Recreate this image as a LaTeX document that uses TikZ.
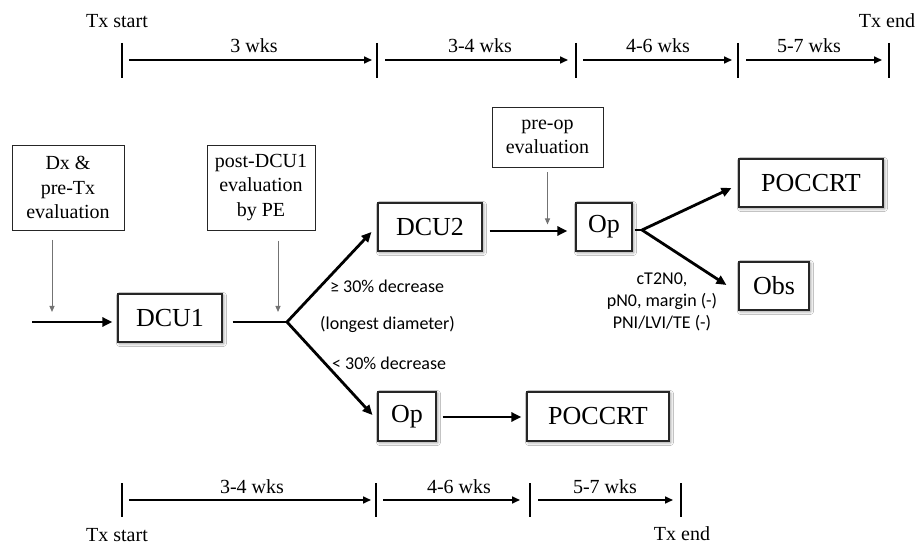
\documentclass[tikz,border=0pt]{standalone}
\usepackage{fontspec}
\setmainfont{Liberation Serif}
\newfontfamily\calib{Carlito}
\usetikzlibrary{arrows.meta,calc,shadows.blur}
\tikzset{
  evalbox/.style={draw=black!85, line width=0.9pt, align=center, inner sep=0pt,
    font=\fontsize{20}{24.5}\selectfont},
  bigbox/.style={draw=black!85, line width=1.1pt, fill=white, inner sep=0pt,
    font=\fontsize{26}{30}\selectfont,
    blur shadow={shadow xshift=1.5pt, shadow yshift=-1.5pt, shadow blur steps=6,
      shadow blur radius=3pt, shadow opacity=45}},
  thickarrow/.style={line width=2.8pt, -{Triangle[length=10pt,width=9pt]}},
  thinarrow/.style={draw=black!55, line width=1pt, -{Triangle[length=6pt,width=5pt]}},
  tlarrow/.style={line width=1.6pt, -{Triangle[length=8pt,width=7pt]}},
  tickmark/.style={line width=1.7pt},
  tltext/.style={anchor=base, inner sep=0pt, font=\fontsize{20}{24}\selectfont},
  lbl/.style={inner sep=0pt, font=\calib\fontsize{18}{22}\selectfont},
}
\begin{document}
\begin{tikzpicture}[x=1pt,y=-1pt]
\useasboundingbox[fill=white] (0,0) rectangle (919,545);

% ---------- top timeline ----------
\foreach \n/\x in {1/122,2/377,3/576,4/738,5/889}{
  \coordinate (ta\n) at (\x,60);
  \draw[tickmark] ($(ta\n)+(0,-17)$) -- ($(ta\n)+(0,18)$);
}
\draw[tlarrow, shorten <=7pt, shorten >=5pt] (ta1) -- (ta2);
\draw[tlarrow, shorten <=8pt, shorten >=8pt] (ta2) -- (ta3);
\draw[tlarrow, shorten <=7pt, shorten >=6pt] (ta3) -- (ta4);
\draw[tlarrow, shorten <=8pt, shorten >=7pt] (ta4) -- (ta5);
\node[tltext] (tla) at (254,53) {3 wks};
\node[tltext] (tlb) at (480,53) {3-4 wks};
\node[tltext] (tlc) at (658,53) {4-6 wks};
\node[tltext] (tld) at (809,53) {5-7 wks};
\node[tltext] (tstart1) at (117,28) {Tx start};
\node[tltext] (tend1) at (887,28) {Tx end};

% ---------- evaluation boxes ----------
\node[evalbox, minimum width=112pt, minimum height=85pt] (dx) at (68,187.5) {Dx \&\\pre-Tx\\evaluation};
\node[evalbox, minimum width=108pt, minimum height=85pt] (post) at (261,187.5) {post-DCU1\\evaluation\\by PE};
\node[evalbox, minimum width=111pt, minimum height=60pt] (preop) at (547.5,137) {pre-op\\evaluation};

% ---------- main boxes ----------
\node[bigbox, minimum width=104pt, minimum height=48pt] (dcu1) at (170,318) {DCU1};
\node[bigbox, minimum width=104pt, minimum height=48pt] (dcu2) at (430,227) {DCU2};
\node[bigbox, minimum width=56pt, minimum height=48pt] (op1) at (604,227) {Op};
\node[bigbox, minimum width=144pt, minimum height=48pt] (pocc1) at (811,183) {POCCRT};
\node[bigbox, minimum width=70pt, minimum height=48pt] (obs) at (774,286) {Obs};
\node[bigbox, minimum width=58pt, minimum height=49pt] (op2) at (407,416.5) {Op};
\node[bigbox, minimum width=142pt, minimum height=49pt] (pocc2) at (598,416.5) {POCCRT};

% ---------- coordinates ----------
\coordinate (in) at (32,322);
\coordinate (b1) at (287,322);
\coordinate (b2) at (642,230);
\coordinate (dxa) at (52,240);
\coordinate (dxb) at (52,312);
\coordinate (pea) at (278,241);
\coordinate (peb) at (278,312);

% ---------- connectors ----------
\draw[thickarrow, shorten >=5pt] (in) -- (dcu1.west |- in);
\draw[line width=2.8pt] ($(dcu1.east |- b1)+(10,0)$) -- (b1);
\draw[thickarrow] (b1) -- ($(dcu2.west)+(-6,5)$);
\draw[thickarrow] (b1) -- ($(op2.west)+(-5,-1.5)$);
\draw[thickarrow, shorten <=6pt, shorten >=5pt] (op2.east |- 0,417) -- (pocc2.west |- 0,417);
\draw[thickarrow, shorten <=7pt, shorten >=8pt] (dcu2.east |- 0,231) -- (op1.west |- 0,231);
\draw[line width=2.8pt] ($(op1.east |- b2)+(2,0)$) -- (b2);
\draw[thickarrow] (b2) -- ($(pocc1.west)+(-7,5)$);
\draw[thickarrow] (b2) -- ($(obs.west)+(-12,-1)$);

\draw[thinarrow] (dxa) -- (dxb);
\draw[thinarrow] (pea) -- (peb);
\draw[thinarrow, shorten <=5pt] (preop.south) -- ($(preop.south)+(0,57)$);

% ---------- branch labels ----------
\node[lbl, anchor=west] (l1) at (330,286) {≥ 30\% decrease};
\node[lbl, anchor=west] (l2) at (320,324) {(longest diameter)};
\node[lbl, anchor=west] (l3) at (332,363) {< 30\% decrease};
\node[lbl, align=center] (l4) at (662,302) {cT2N0,\\pN0, margin (-)\\PNI/LVI/TE (-)};

% ---------- bottom timeline ----------
\foreach \n/\x in {1/122,2/376,3/530,4/681}{
  \coordinate (tb\n) at (\x,500);
  \draw[tickmark] ($(tb\n)+(0,-17)$) -- ($(tb\n)+(0,17)$);
}
\draw[tlarrow, shorten <=7pt, shorten >=5pt] (tb1) -- (tb2);
\draw[tlarrow, shorten <=7pt, shorten >=10pt] (tb2) -- (tb3);
\draw[tlarrow, shorten <=8pt, shorten >=8pt] (tb3) -- (tb4);
\node[tltext] (tle) at (252,493) {3-4 wks};
\node[tltext] (tlf) at (459,493) {4-6 wks};
\node[tltext] (tlg) at (605,493) {5-7 wks};
\node[tltext] (tstart2) at (117,541) {Tx start};
\node[tltext] (tend2) at (682,540) {Tx end};
\end{tikzpicture}
\end{document}
